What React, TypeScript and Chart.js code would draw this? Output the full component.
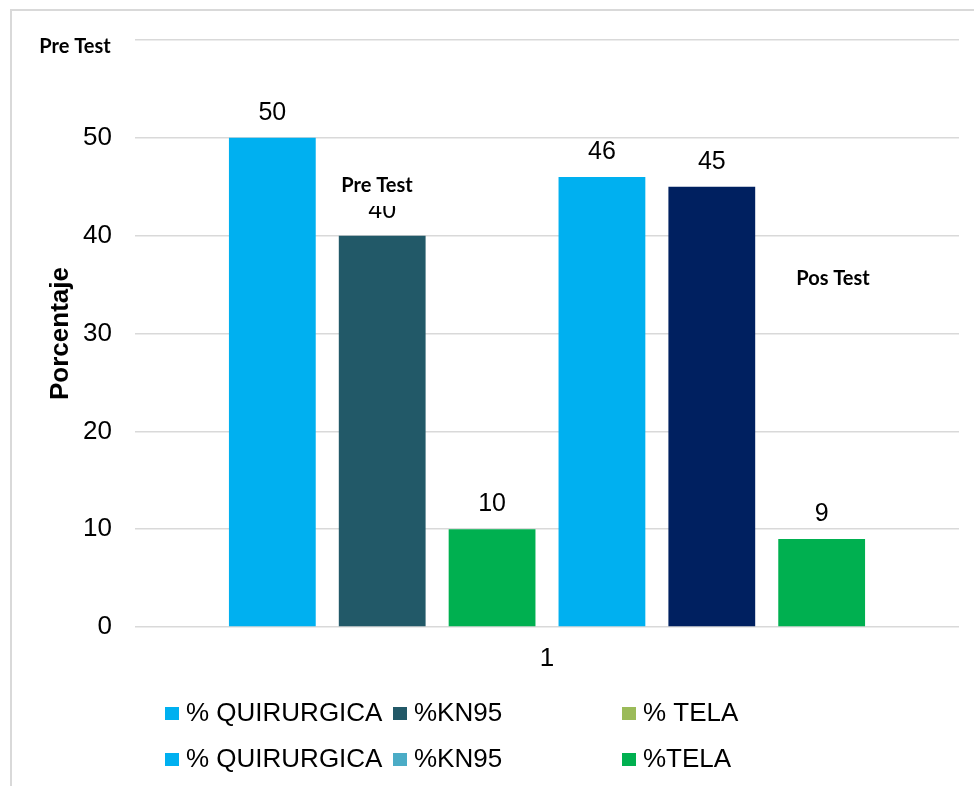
import React, { useEffect, useRef } from "react";
import { Chart, registerables } from "chart.js";

Chart.register(...registerables);

// ---- data ----
const categories = ["1"];
const seriesLabels = ["% QUIRURGICA", "%KN95", "% TELA", "% QUIRURGICA", "%KN95", "%TELA"];
const quirurgicaPre = [50];
const kn95Pre = [40];
const telaPre = [10];
const quirurgicaPos = [46];
const kn95Pos = [45];
const telaPos = [9];
const seriesValues = [quirurgicaPre, kn95Pre, telaPre, quirurgicaPos, kn95Pos, telaPos];
const barColors = ["#00B0F0", "#225968", "#00B050", "#00B0F0", "#002060", "#00B050"];
const legendColors = ["#00B0F0", "#225968", "#9BBB59", "#00B0F0", "#4BACC6", "#00B050"];
const annotationTexts = ["Pre Test", "Pre Test", "Pos Test"];
const yAxisTitle = "Porcentaje";
const yMin = 0;
const yMax = 60;
const yStep = 10;

const FONT = 'Arial, "Liberation Sans", sans-serif';
const NOTE_FONT = 'Lato, "Noto Sans", sans-serif';

const backgroundPlugin = {
  id: "bgBorder",
  beforeDraw(chart: any) {
    const ctx = chart.ctx;
    ctx.save();
    ctx.fillStyle = "#ffffff";
    ctx.fillRect(0, 0, chart.width, chart.height);
    ctx.strokeStyle = "#D9D9D9";
    ctx.lineWidth = 2;
    ctx.strokeRect(11, 10, chart.width + 50, chart.height + 50);
    ctx.restore();
  },
};

const dataLabelPlugin = {
  id: "dataLabels",
  afterDatasetsDraw(chart: any) {
    const ctx = chart.ctx;
    ctx.save();
    ctx.font = `25px ${FONT}`;
    ctx.fillStyle = "#000000";
    ctx.textAlign = "center";
    ctx.textBaseline = "middle";
    chart.data.datasets.forEach((ds: any, i: number) => {
      const meta = chart.getDatasetMeta(i);
      meta.data.forEach((bar: any, j: number) => {
        ctx.fillText(String(ds.data[j]), bar.x, bar.y - 25);
      });
    });
    ctx.restore();
  },
};

const annotationPlugin = {
  id: "notes",
  afterDraw(chart: any) {
    const ctx = chart.ctx;
    const pos = [
      [75, 47],
      [377, 186],
      [833, 279],
    ];
    ctx.save();
    ctx.font = `bold 20px ${NOTE_FONT}`;
    ctx.textAlign = "center";
    ctx.textBaseline = "middle";
    annotationTexts.forEach((t, i) => {
      const [x, y] = pos[i];
      const w = ctx.measureText(t).width;
      ctx.fillStyle = "#ffffff";
      ctx.fillRect(x - w / 2 - 6, y - 16, w + 12, 36);
      ctx.fillStyle = "#000000";
      ctx.fillText(t, x, y);
    });
    ctx.restore();
  },
};

const legendPlugin = {
  id: "gridLegend",
  afterDraw(chart: any) {
    const ctx = chart.ctx;
    const colX = [165, 393, 622];
    const rowBase = [721, 767];
    ctx.save();
    ctx.font = `26px ${FONT}`;
    ctx.textAlign = "left";
    ctx.textBaseline = "alphabetic";
    seriesLabels.forEach((label, i) => {
      const c = i % 3;
      const r = Math.floor(i / 3);
      const x = colX[c];
      const b = rowBase[r];
      ctx.fillStyle = legendColors[i];
      ctx.fillRect(x, b - 14, 14, 13);
      ctx.fillStyle = "#000000";
      ctx.fillText(label, x + 21, b);
    });
    ctx.restore();
  },
};

export default function App() {
  const canvasRef = useRef<HTMLCanvasElement | null>(null);

  useEffect(() => {
    if (!canvasRef.current) return;
    Chart.defaults.font.family = FONT;
    const chart = new Chart(canvasRef.current, {
      type: "bar",
      data: {
        labels: categories,
        datasets: seriesLabels.map((label, i) => ({
          label,
          data: seriesValues[i],
          backgroundColor: barColors[i],
          borderWidth: 0,
          categoryPercentage: 0.8,
          barPercentage: 0.79,
        })),
      },
      options: {
        responsive: false,
        animation: false,
        layout: { padding: { left: 0, right: 15, top: 40, bottom: 109 } },
        plugins: {
          legend: { display: false },
          tooltip: { enabled: false },
          title: { display: false },
        },
        scales: {
          x: {
            grid: { display: false, drawTicks: false },
            border: { display: false },
            ticks: { color: "#000000", font: { size: 26 }, padding: 16 },
            afterFit(scale: any) {
              scale.height = 50;
            },
          },
          y: {
            min: yMin,
            max: yMax,
            grid: { color: "#D9D9D9", lineWidth: 1.5, drawTicks: false },
            border: { display: false },
            ticks: {
              stepSize: yStep,
              color: "#000000",
              font: { size: 26 },
              padding: 23,
              callback: (v: any) => (Number(v) === yMax ? "" : String(v)),
            },
            title: {
              display: true,
              text: yAxisTitle,
              color: "#000000",
              font: { size: 26, weight: "bold" },
              padding: { top: 45, bottom: 0 },
            },
            afterFit(scale: any) {
              scale.width = 135;
            },
          },
        },
      },
      plugins: [backgroundPlugin, dataLabelPlugin, annotationPlugin, legendPlugin],
    });
    return () => chart.destroy();
  }, []);

  return (
    <div style={{ position: "fixed", left: 0, top: 0, width: 974, height: 786, overflow: "hidden", background: "#fff" }}>
      <canvas ref={canvasRef} width={974} height={786} style={{ display: "block" }} />
    </div>
  );
}
